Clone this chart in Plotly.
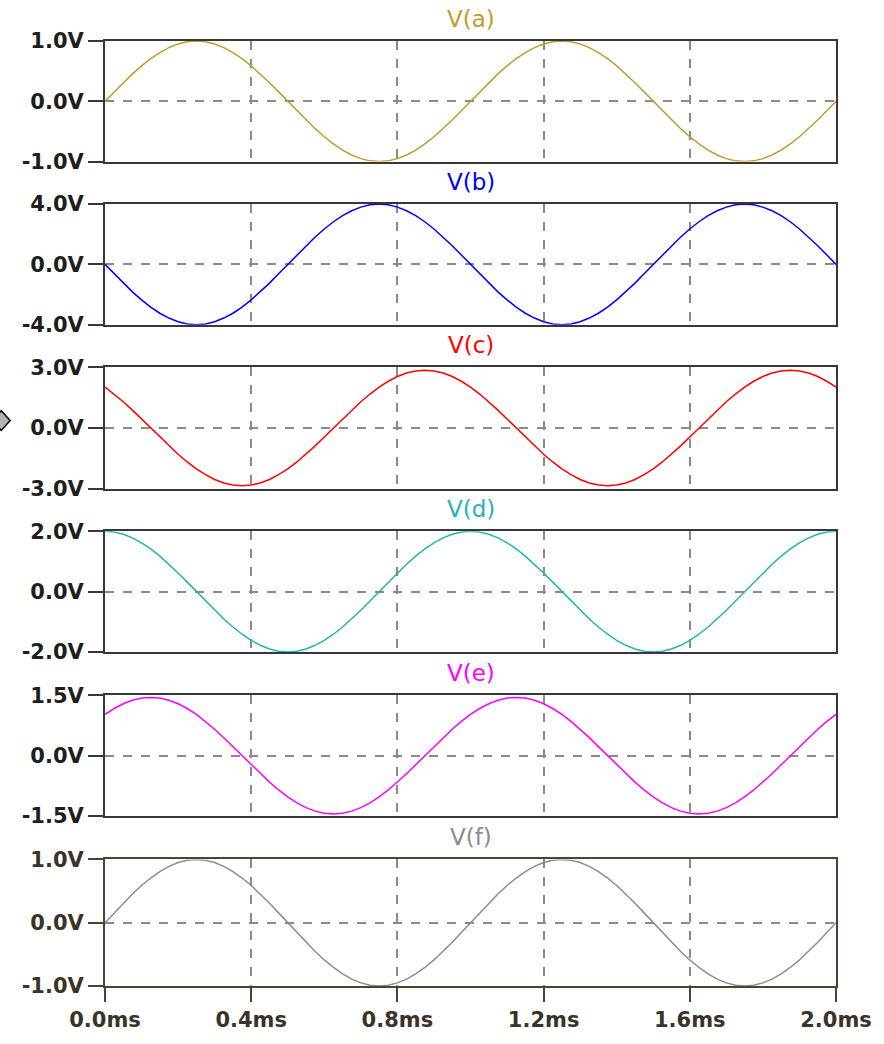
import plotly.graph_objects as go

# ---- data (time in ms, values in V) ----
t_ms = [round(i * 0.025, 3) for i in range(81)]

v_a = [0.0, 0.156, 0.309, 0.454, 0.588, 0.707, 0.809, 0.891, 0.951, 0.988,
       1.0, 0.988, 0.951, 0.891, 0.809, 0.707, 0.588, 0.454, 0.309, 0.156,
       0.0, -0.156, -0.309, -0.454, -0.588, -0.707, -0.809, -0.891, -0.951, -0.988,
       -1.0, -0.988, -0.951, -0.891, -0.809, -0.707, -0.588, -0.454, -0.309, -0.156,
       0.0, 0.156, 0.309, 0.454, 0.588, 0.707, 0.809, 0.891, 0.951, 0.988,
       1.0, 0.988, 0.951, 0.891, 0.809, 0.707, 0.588, 0.454, 0.309, 0.156,
       0.0, -0.156, -0.309, -0.454, -0.588, -0.707, -0.809, -0.891, -0.951, -0.988,
       -1.0, -0.988, -0.951, -0.891, -0.809, -0.707, -0.588, -0.454, -0.309, -0.156,
       0.0]
v_b = [0.0, -0.62, -1.24, -1.82, -2.35, -2.83, -3.24, -3.56, -3.80, -3.95,
       -4.0, -3.95, -3.80, -3.56, -3.24, -2.83, -2.35, -1.82, -1.24, -0.62,
       0.0, 0.62, 1.24, 1.82, 2.35, 2.83, 3.24, 3.56, 3.80, 3.95,
       4.0, 3.95, 3.80, 3.56, 3.24, 2.83, 2.35, 1.82, 1.24, 0.62,
       0.0, -0.62, -1.24, -1.82, -2.35, -2.83, -3.24, -3.56, -3.80, -3.95,
       -4.0, -3.95, -3.80, -3.56, -3.24, -2.83, -2.35, -1.82, -1.24, -0.62,
       0.0, 0.62, 1.24, 1.82, 2.35, 2.83, 3.24, 3.56, 3.80, 3.95,
       4.0, 3.95, 3.80, 3.56, 3.24, 2.83, 2.35, 1.82, 1.24, 0.62,
       0.0]
v_c = [2.015, 1.676, 1.294, 0.881, 0.446, 0.0, -0.446, -0.881, -1.294, -1.676,
       -2.015, -2.306, -2.539, -2.710, -2.815, -2.85, -2.815, -2.710, -2.539, -2.306,
       -2.015, -1.676, -1.294, -0.881, -0.446, 0.0, 0.446, 0.881, 1.294, 1.676,
       2.015, 2.306, 2.539, 2.710, 2.815, 2.85, 2.815, 2.710, 2.539, 2.306,
       2.015, 1.676, 1.294, 0.881, 0.446, 0.0, -0.446, -0.881, -1.294, -1.676,
       -2.015, -2.306, -2.539, -2.710, -2.815, -2.85, -2.815, -2.710, -2.539, -2.306,
       -2.015, -1.676, -1.294, -0.881, -0.446, 0.0, 0.446, 0.881, 1.294, 1.676,
       2.015, 2.306, 2.539, 2.710, 2.815, 2.85, 2.815, 2.710, 2.539, 2.306,
       2.015]
v_d = [2.0, 1.975, 1.902, 1.782, 1.618, 1.414, 1.176, 0.908, 0.618, 0.313,
       0.0, -0.313, -0.618, -0.908, -1.176, -1.414, -1.618, -1.782, -1.902, -1.975,
       -2.0, -1.975, -1.902, -1.782, -1.618, -1.414, -1.176, -0.908, -0.618, -0.313,
       0.0, 0.313, 0.618, 0.908, 1.176, 1.414, 1.618, 1.782, 1.902, 1.975,
       2.0, 1.975, 1.902, 1.782, 1.618, 1.414, 1.176, 0.908, 0.618, 0.313,
       0.0, -0.313, -0.618, -0.908, -1.176, -1.414, -1.618, -1.782, -1.902, -1.975,
       -2.0, -1.975, -1.902, -1.782, -1.618, -1.414, -1.176, -0.908, -0.618, -0.313,
       0.0, 0.313, 0.618, 0.908, 1.176, 1.414, 1.618, 1.782, 1.902, 1.975,
       2.0]
v_e = [1.025, 1.173, 1.292, 1.379, 1.433, 1.45, 1.433, 1.379, 1.292, 1.173,
       1.025, 0.853, 0.658, 0.448, 0.226, 0.0, -0.226, -0.448, -0.658, -0.853,
       -1.025, -1.173, -1.292, -1.379, -1.433, -1.45, -1.433, -1.379, -1.292, -1.173,
       -1.025, -0.853, -0.658, -0.448, -0.226, 0.0, 0.226, 0.448, 0.658, 0.853,
       1.025, 1.173, 1.292, 1.379, 1.433, 1.45, 1.433, 1.379, 1.292, 1.173,
       1.025, 0.853, 0.658, 0.448, 0.226, 0.0, -0.226, -0.448, -0.658, -0.853,
       -1.025, -1.173, -1.292, -1.379, -1.433, -1.45, -1.433, -1.379, -1.292, -1.173,
       -1.025, -0.853, -0.658, -0.448, -0.226, 0.0, 0.226, 0.448, 0.658, 0.853,
       1.025]
v_f = [0.0, 0.156, 0.309, 0.454, 0.588, 0.707, 0.809, 0.891, 0.951, 0.988,
       1.0, 0.988, 0.951, 0.891, 0.809, 0.707, 0.588, 0.454, 0.309, 0.156,
       0.0, -0.156, -0.309, -0.454, -0.588, -0.707, -0.809, -0.891, -0.951, -0.988,
       -1.0, -0.988, -0.951, -0.891, -0.809, -0.707, -0.588, -0.454, -0.309, -0.156,
       0.0, 0.156, 0.309, 0.454, 0.588, 0.707, 0.809, 0.891, 0.951, 0.988,
       1.0, 0.988, 0.951, 0.891, 0.809, 0.707, 0.588, 0.454, 0.309, 0.156,
       0.0, -0.156, -0.309, -0.454, -0.588, -0.707, -0.809, -0.891, -0.951, -0.988,
       -1.0, -0.988, -0.951, -0.891, -0.809, -0.707, -0.588, -0.454, -0.309, -0.156,
       0.0]

names = ["V(a)", "V(b)", "V(c)", "V(d)", "V(e)", "V(f)"]
series = [v_a, v_b, v_c, v_d, v_e, v_f]
y_limits = [1.0, 4.0, 3.0, 2.0, 1.5, 1.0]
y_ticklabels = [["-1.0V", "0.0V", "1.0V"],
                ["-4.0V", "0.0V", "4.0V"],
                ["-3.0V", "0.0V", "3.0V"],
                ["-2.0V", "0.0V", "2.0V"],
                ["-1.5V", "0.0V", "1.5V"],
                ["-1.0V", "0.0V", "1.0V"]]
x_tickvals = [0.0, 0.4, 0.8, 1.2, 1.6, 2.0]
x_ticklabels = ["0.0ms", "0.4ms", "0.8ms", "1.2ms", "1.6ms", "2.0ms"]

colors = ["#c49a2c", "#0000ff", "#ff0000", "#1fb4b4", "#ff00ff", "#8c8c8c"]

# ---- layout geometry (pixels) ----
W, H = 884, 1044
L, R, T, B = 105, 845, 41, 997
panel_px = [(41, 163), (206, 328), (371, 494), (537, 659), (703, 825), (869, 997)]
ph = B - T

def ypaper(py):
    return (B - py) / ph

def xpaper(px):
    return (px - L) / (R - L)

FONT = "DejaVu Sans"
frame_col = "#383838"
last_col = "#4a4434"

fig = go.Figure()
annotations = []
for i in range(6):
    idx = "" if i == 0 else str(i + 1)
    xa = "x" + idx
    ya = "y" + idx
    fig.add_trace(go.Scatter(x=t_ms, y=series[i], mode="lines", name=names[i],
                             line=dict(color=colors[i], width=1.5),
                             xaxis=xa, yaxis=ya, hoverinfo="skip"))
    top, bot = panel_px[i]
    lim = y_limits[i]
    is_last = (i == 5)
    fc = last_col if is_last else frame_col
    fig.layout["xaxis" + idx] = dict(
        domain=[0, 1], anchor=ya, range=[0, 2.0],
        tickvals=x_tickvals, ticktext=x_ticklabels,
        showticklabels=is_last, ticks="outside" if is_last else "",
        ticklen=14, tickwidth=2, tickcolor=fc,
        showline=True, linecolor=fc, linewidth=2, mirror=True,
        showgrid=True, gridcolor="#8a8a8a", griddash="dash", gridwidth=1.5,
        zeroline=False, fixedrange=True,
        tickfont=dict(family=FONT, size=21, color="#3a3428", weight="bold"),
        **({} if i == 0 else {"matches": "x"}))
    fig.layout["yaxis" + idx] = dict(
        domain=[ypaper(bot), ypaper(top)], anchor=xa, range=[-lim, lim],
        tickvals=[-lim, 0, lim], ticktext=y_ticklabels[i],
        ticks="outside", ticklen=15, tickwidth=2, tickcolor=fc,
        showline=True, linecolor=fc, linewidth=2, mirror=True,
        showgrid=True, gridcolor="#8a8a8a", griddash="dash", gridwidth=1.5,
        zeroline=False, fixedrange=True,
        tickfont=dict(family=FONT, size=21, weight="bold",
                      color="#3a3428" if is_last else "#1e1e1e"))
    annotations.append(dict(text=names[i], xref="paper", yref="paper",
                            x=0.5, y=ypaper(top), xanchor="center", yanchor="middle",
                            yshift=22, showarrow=False,
                            font=dict(family=FONT, size=23, color=colors[i])))

# small cursor marker at left of V(c)
cy = 425
shape_path = "M {x0},{y0} L {x1},{y1} L {x0},{y2} L {x3},{y1} Z".format(
    x0=xpaper(0), y0=ypaper(cy - 10), x1=xpaper(9), y1=ypaper(cy), y2=ypaper(cy + 10), x3=xpaper(-9))
shapes = [dict(type="path", xref="paper", yref="paper", path=shape_path,
               fillcolor="#b4b4b4", line=dict(color="#000000", width=1.5), layer="above")]

fig.update_layout(
    width=W, height=H,
    margin=dict(l=L, r=W - R, t=T, b=H - B, pad=0),
    paper_bgcolor="white", plot_bgcolor="white",
    showlegend=False, annotations=annotations, shapes=shapes,
)

fig.write_html("out.html", config={"displayModeBar": False},
               post_script="document.body.style.margin='0';document.body.style.overflow='hidden';")
